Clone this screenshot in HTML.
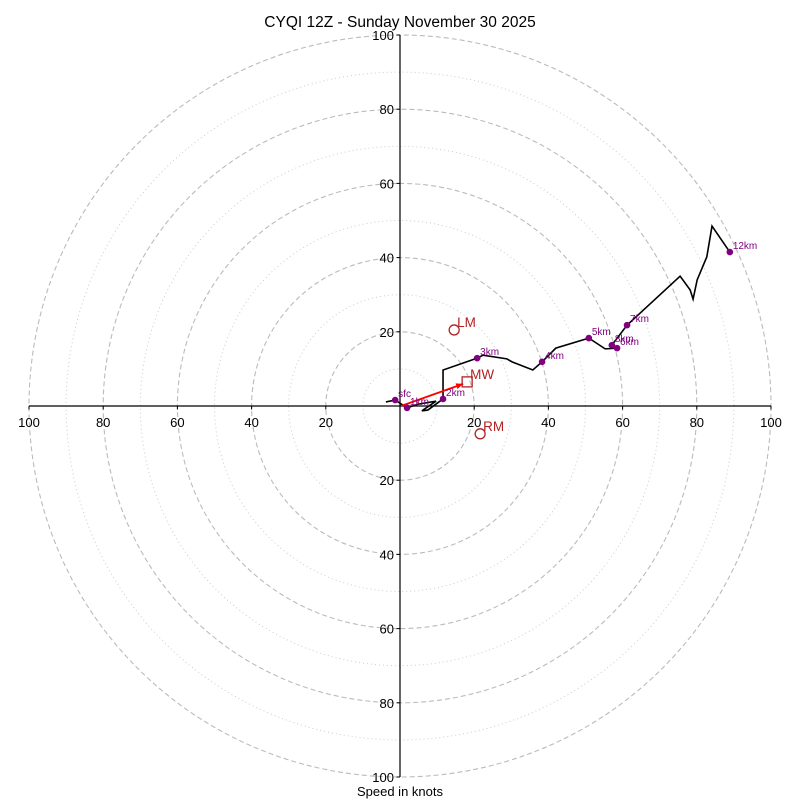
<!DOCTYPE html>
<html><head><meta charset="utf-8"><style>
body{margin:0;background:#fff}
svg{display:block;font-family:"Liberation Sans","DejaVu Sans",sans-serif}
</style></head><body>
<svg id="c" width="800" height="800" viewBox="0 0 800 800">
<text x="400" y="27" text-anchor="middle" font-size="15.5">CYQI 12Z - Sunday November 30 2025</text>
<text x="400" y="796" text-anchor="middle" font-size="13">Speed in knots</text>
<g id="rings"></g><g id="axes"></g><g id="trace"></g><g id="marks"></g>
</svg>
<script>
const uWind=[-3.8,-1.3,1.9,4.9,9.7,5.9,7.5,11.6,11.6,20.8,22.4,28.8,30.2,35.8,38.3,42.0,50.9,55.3,58.5,57.1,61.2,75.5,78.2,79.0,80.1,82.7,84.1,88.9];
const vWind=[1.1,1.6,-0.5,0.5,1.3,-1.3,-1.1,1.9,9.7,12.9,13.7,12.7,11.9,9.7,11.9,15.6,18.3,15.4,15.6,16.4,21.8,35.0,31.3,28.8,34.0,40.2,48.5,41.5];
const levelLabels=["sfc","1km","2km","3km","4km","5km","6km","7km","8km","12km"];
const levelU=[-1.3,1.9,11.6,20.8,38.3,50.9,58.5,61.2,57.1,88.9];
const levelV=[1.6,-0.5,1.9,12.9,11.9,18.3,15.6,21.8,16.4,41.5];
const stormLabels=["LM","MW","RM"];
const stormU=[14.6,18.1,21.6];
const stormV=[20.5,6.5,-7.5];
const tickValues=[20,40,60,80,100];
const ringValues=[10,20,30,40,50,60,70,80,90,100];

const NS="http://www.w3.org/2000/svg",cx=400,cy=406,k=3.71;
const X=u=>cx+u*k, Y=v=>cy-v*k;
function mk(t,a,p){const e=document.createElementNS(NS,t);for(const q in a)e.setAttribute(q,a[q]);p.appendChild(e);return e;}
const rings=document.getElementById('rings'),axes=document.getElementById('axes'),trace=document.getElementById('trace'),marks=document.getElementById('marks');
ringValues.forEach(r=>{
 const major=r%20===0;
 const c=mk('circle',{cx:cx,cy:cy,r:r*k,fill:'none',stroke:major?'#bbb':'#ccc','stroke-width':major?1.1:1,'stroke-dasharray':major?'5,3':'1,3'},rings);
 
 
});
let l=mk('line',{x1:X(-100),y1:cy,x2:X(100),y2:cy,stroke:'#000','stroke-width':1.2},axes);


l=mk('line',{x1:cx,y1:Y(100),x2:cx,y2:Y(-100),stroke:'#000','stroke-width':1.2},axes);


tickValues.forEach(t=>{
 [1,-1].forEach(s=>{
  mk('line',{x1:X(s*t),y1:cy,x2:X(s*t),y2:cy+3.5,stroke:'#000'},axes);
  let tx=mk('text',{x:X(s*t),y:cy+21,'text-anchor':'middle','font-size':13},axes);tx.textContent=t;
  
  
  mk('line',{x1:cx,y1:Y(s*t),x2:cx-3.5,y2:Y(s*t),stroke:'#000'},axes);
  let ty=mk('text',{x:cx-6,y:Y(s*t)+5,'text-anchor':'end','font-size':13},axes);ty.textContent=t;
  
  
 });
});
const pl=mk('polyline',{points:uWind.map((u,i)=>X(u)+','+Y(vWind[i])).join(' '),fill:'none',stroke:'#000','stroke-width':1.6},trace);


// storm motion arrow
const ax=X(stormU[1])-4,ay=Y(stormV[1])+2;
mk('line',{x1:cx+1,y1:cy,x2:ax,y2:ay,stroke:'#f00','stroke-width':1.8},marks);
const ang=Math.atan2(ay-cy,ax-cx);
const hp=[[ax,ay],[ax-7*Math.cos(ang)+3*Math.sin(ang),ay-7*Math.sin(ang)-3*Math.cos(ang)],[ax-7*Math.cos(ang)-3*Math.sin(ang),ay-7*Math.sin(ang)+3*Math.cos(ang)]];
mk('polygon',{points:hp.map(p=>p.join(',')).join(' '),fill:'#f00'},marks);
levelLabels.forEach((n,i)=>{
 const d=mk('circle',{cx:X(levelU[i]),cy:Y(levelV[i]),r:3.3,fill:'#800080'},marks);
 
 
 const t=mk('text',{x:X(levelU[i])+3,y:Y(levelV[i])-3,'font-size':10,fill:'#800080'},marks);t.textContent=n;
 
 
});
stormLabels.forEach((n,i)=>{
 const x=X(stormU[i]),y=Y(stormV[i]);
 let m;
 if(n==='MW') m=mk('rect',{x:x-5,y:y-5,width:10,height:10,fill:'none',stroke:'#b22222','stroke-width':1.3},marks);
 else m=mk('circle',{cx:x,cy:y,r:5,fill:'none',stroke:'#b22222','stroke-width':1.3},marks);
 
 
 const t=mk('text',{x:x+3,y:y-3,'font-size':13.5,fill:'#b22222'},marks);t.textContent=n;
 
 
});
</script>
</body></html>
